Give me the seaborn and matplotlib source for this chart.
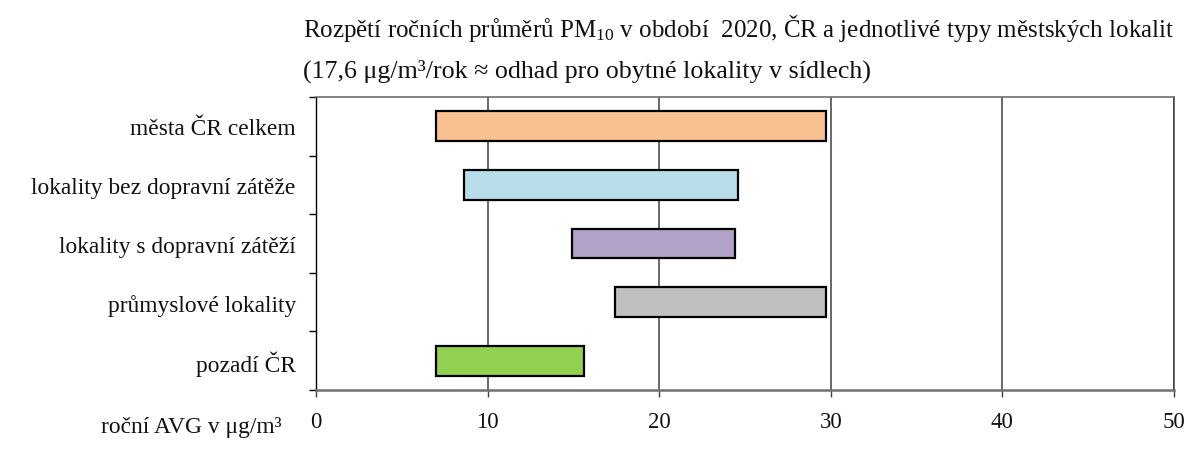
import matplotlib
matplotlib.use("Agg")
import matplotlib.pyplot as plt
import seaborn as sns
import pandas as pd
import numpy as np

categories = ["města ČR celkem", "lokality bez dopravní zátěže",
              "lokality s dopravní zátěží", "průmyslové lokality", "pozadí ČR"]
range_min = [7.0, 8.6, 14.9, 17.4, 7.0]
range_max = [29.7, 24.6, 24.4, 29.7, 15.6]
bar_colors = ["#F9C18F", "#B7DEE8", "#B2A2C7", "#BFBFBF", "#92D050"]
x_ticks = [0, 10, 20, 30, 40, 50]
title_line1 = "Rozpětí ročních průměrů PM$_{10}$ v období  2020, ČR a jednotlivé typy městských lokalit"
title_line2 = "(17,6 μg/m³/rok ≈ odhad pro obytné lokality v sídlech)"
x_label = "roční AVG v μg/m³"

sns.set_theme(style="white")
plt.rcParams["font.family"] = ["Liberation Serif", "DejaVu Serif"]
plt.rcParams["mathtext.fontset"] = "custom"
plt.rcParams["mathtext.rm"] = "Liberation Serif"
plt.rcParams["mathtext.it"] = "Liberation Serif:italic"
plt.rcParams["mathtext.bf"] = "Liberation Serif:bold"

FS_LABEL = 16.9
FS_TICK = 16.5
FS_TITLE1 = 18.0
FS_TITLE2 = 18.7
TXT = "#111111"

df = pd.DataFrame({"category": categories, "low": range_min, "high": range_max})
df["span"] = df["high"] - df["low"]

W, H = 1203, 452
fig = plt.figure(figsize=(W / 100, H / 100), dpi=100)
ax = fig.add_axes([316 / W, 1 - 391 / H, (1174 - 316) / W, (391 - 98) / H])

sns.barplot(data=df, y="category", x="span", hue="category", palette=bar_colors,
            order=categories, hue_order=categories, orient="h", width=0.51,
            edgecolor="black", linewidth=1.6, legend=False, ax=ax, saturation=1)

# shift each floating bar to its lower bound
for p in ax.patches:
    idx = int(round(p.get_y() + p.get_height() / 2))
    p.set_x(df["low"][idx])

ax.set_xlim(0, 50)
ax.set_ylim(len(categories) - 0.5, -0.5)
ax.set_xticks(x_ticks)
ax.set_xticklabels([str(t) for t in x_ticks])
ax.set_axisbelow(True)
ax.xaxis.grid(True, color="#404040", linewidth=1.1)
ax.yaxis.grid(False)

ax.set_xlabel("")
ax.set_ylabel("")

ax.spines["left"].set_color("black")
ax.spines["left"].set_linewidth(1.0)
ax.spines["bottom"].set_color("#707070")
ax.spines["bottom"].set_linewidth(1.8)
ax.spines["top"].set_color("#707070")
ax.spines["top"].set_linewidth(1.2)
ax.spines["right"].set_color("#404040")
ax.spines["right"].set_linewidth(1.1)

ax.tick_params(axis="x", which="major", direction="out", length=5, width=1.0,
               color="#404040", pad=10, labelsize=FS_TICK, labelcolor=TXT, bottom=True)
ax.tick_params(axis="y", which="major", length=0, pad=14.5, labelsize=FS_LABEL,
               labelcolor=TXT, left=True)
ax.set_yticks(np.arange(-0.5, len(categories), 1.0), minor=True)
ax.tick_params(axis="y", which="minor", direction="out", length=5, width=1.0,
               color="black", left=True)

fig.text(282 / W, 1 - 433 / H, x_label, ha="right", va="baseline", fontsize=FS_LABEL,
         color=TXT)
fig.text(303 / W, 1 - 37 / H, title_line1, ha="left", va="baseline", fontsize=FS_TITLE1,
         color=TXT)
fig.text(303 / W, 1 - 78 / H, title_line2, ha="left", va="baseline", fontsize=FS_TITLE2,
         color=TXT)

fig.savefig("out.png", dpi=100)
